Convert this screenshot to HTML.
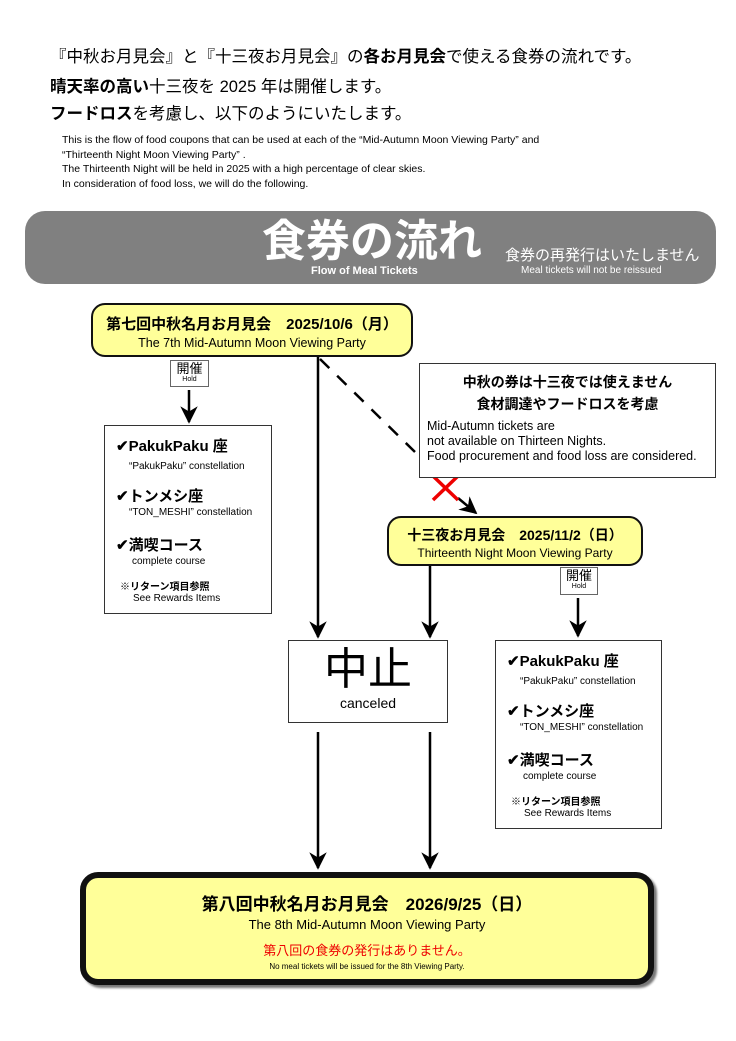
<!DOCTYPE html>
<html><head><meta charset="utf-8"><style>
*{margin:0;padding:0;box-sizing:border-box}
body{width:736px;height:1041px;background:#fff;position:relative;overflow:hidden;font-family:"Liberation Sans","Noto Sans CJK JP",sans-serif;color:#000}
.a{position:absolute;white-space:nowrap}
.box{position:absolute;border:1.5px solid #333;background:#fff}
.y{position:absolute;background:#ffff99;border:2px solid #111;border-radius:14px;text-align:center}
.hold{position:absolute;border:1px solid #666;background:#fff;text-align:center;font-size:13px;line-height:15px}
.hold small{display:block;font-size:7px;line-height:8px}
.li{font-weight:bold;font-size:15px}
.sm{font-size:10px}
</style></head><body>
<div class="a" style="left:50px;top:43px;font-size:16.5px">『中秋お月見会』と『十三夜お月見会』の<b>各お月見会</b>で使える食券の流れです。</div>
<div class="a" style="left:50px;top:73px;font-size:16.5px"><b>晴天率の高い</b>十三夜を 2025 年は開催します。</div>
<div class="a" style="left:50px;top:100px;font-size:16.5px"><b>フードロス</b>を考慮し、以下のようにいたします。</div>
<div class="a" style="left:62px;top:133px;font-size:10.5px;line-height:14.5px">This is the flow of food coupons that can be used at each of the “Mid-Autumn Moon Viewing Party” and<br>“Thirteenth Night Moon Viewing Party” .<br>The Thirteenth Night will be held in 2025 with a high percentage of clear skies.<br>In consideration of food loss, we will do the following.</div>

<div class="a" style="left:25px;top:211px;width:691px;height:73px;background:#808080;border-radius:20px"></div>
<div class="a" style="left:262px;top:216px;font-size:44px;font-weight:bold;color:#fff;line-height:52px">食券の流れ</div>
<div class="a" style="left:311px;top:265px;font-size:11px;font-weight:bold;color:#fff">Flow of Meal Tickets</div>
<div class="a" style="left:505px;top:244px;font-size:15px;color:#fff">食券の再発行はいたしません</div>
<div class="a" style="left:521px;top:265px;font-size:10px;color:#fff">Meal tickets will not be reissued</div>

<svg class="a" style="left:0;top:0" width="736" height="1041">
<defs><marker id="ar" viewBox="0 0 10 10" refX="9" refY="5" markerWidth="7.5" markerHeight="7" orient="auto" markerUnits="strokeWidth"><path d="M0 0L10 5L0 10L3 5z" fill="#000"/></marker></defs>
<g stroke="#000" stroke-width="2.5" fill="none" marker-end="url(#ar)">
<line x1="189" y1="390" x2="189" y2="422"/>
<line x1="318" y1="356" x2="318" y2="637"/>
<line x1="430" y1="565" x2="430" y2="637"/>
<line x1="578" y1="598" x2="578" y2="636"/>
<line x1="318" y1="732" x2="318" y2="868"/>
<line x1="430" y1="732" x2="430" y2="868"/>
<line x1="458" y1="498" x2="476" y2="513"/>
</g>
<line x1="320" y1="359" x2="415" y2="452" stroke="#000" stroke-width="2.5" stroke-dasharray="13,11"/>
<g stroke="#e00" stroke-width="3.5"><line x1="433" y1="476" x2="458" y2="500"/><line x1="458" y1="476" x2="433" y2="500"/></g>
</svg>

<div class="y" style="left:91px;top:303px;width:322px;height:54px"><div style="font-weight:bold;font-size:15px;margin-top:8px">第七回中秋名月お月見会　2025/10/6（月）</div><div style="font-size:12.5px;margin-top:2px">The 7th Mid-Autumn Moon Viewing Party</div></div>
<div class="hold" style="left:170px;top:360px;width:39px;height:27px">開催<small>Hold</small></div>

<div class="box" style="left:104px;top:425px;width:168px;height:189px"></div>
<div class="a" style="left:116px;top:440px;line-height:14px"><div class="li">✔PakukPaku 座</div><div class="sm" style="margin:6px 0 0 13px">“PakukPaku” constellation</div></div>
<div class="a" style="left:116px;top:485px"><div class="li">✔トンメシ座</div><div class="sm" style="margin:1px 0 0 13px">“TON_MESHI” constellation</div></div>
<div class="a" style="left:116px;top:534px"><div class="li">✔満喫コース</div><div class="sm" style="margin:1px 0 0 16px">complete course</div></div>
<div class="a" style="left:120px;top:578px"><div style="font-size:10px;font-weight:bold">※リターン項目参照</div><div class="sm" style="margin-left:13px">See Rewards Items</div></div>

<div class="box" style="left:419px;top:363px;width:297px;height:115px"></div>
<div class="a" style="left:419px;width:297px;top:371px;text-align:center;font-weight:bold;font-size:14px;line-height:22px">中秋の券は十三夜では使えません<br>食材調達やフードロスを考慮</div>
<div class="a" style="left:427px;top:419px;font-size:12.5px;line-height:15px">Mid-Autumn tickets are<br>not available on Thirteen Nights.<br>Food procurement and food loss are considered.</div>

<div class="y" style="left:387px;top:516px;width:256px;height:50px"><div style="font-weight:bold;font-size:14px;margin-top:7px">十三夜お月見会　2025/11/2（日）</div><div style="font-size:12px;margin-top:1px">Thirteenth Night Moon Viewing Party</div></div>
<div class="hold" style="left:560px;top:567px;width:38px;height:28px">開催<small>Hold</small></div>

<div class="box" style="left:288px;top:640px;width:160px;height:83px;text-align:center"><div style="font-size:44px;line-height:50px;margin-top:4px">中止</div><div style="font-size:14px;line-height:16px">canceled</div></div>

<div class="box" style="left:495px;top:640px;width:167px;height:189px"></div>
<div class="a" style="left:507px;top:655px;line-height:14px"><div class="li">✔PakukPaku 座</div><div class="sm" style="margin:6px 0 0 13px">“PakukPaku” constellation</div></div>
<div class="a" style="left:507px;top:700px"><div class="li">✔トンメシ座</div><div class="sm" style="margin:1px 0 0 13px">“TON_MESHI” constellation</div></div>
<div class="a" style="left:507px;top:749px"><div class="li">✔満喫コース</div><div class="sm" style="margin:1px 0 0 16px">complete course</div></div>
<div class="a" style="left:511px;top:793px"><div style="font-size:10px;font-weight:bold">※リターン項目参照</div><div class="sm" style="margin-left:13px">See Rewards Items</div></div>

<div class="a" style="left:80px;top:872px;width:574px;height:113px;background:#ffff99;border:6px solid #111;border-radius:18px;box-shadow:3px 3px 2px #777;text-align:center">
<div style="font-weight:bold;font-size:17px;margin-top:12px">第八回中秋名月お月見会　2026/9/25（日）</div>
<div style="font-size:13px;margin-top:2px">The 8th Mid-Autumn Moon Viewing Party</div>
<div style="font-size:13px;color:#e00;margin-top:8px">第八回の食券の発行はありません。</div>
<div style="font-size:8px;margin-top:3px">No meal tickets will be issued for the 8th Viewing Party.</div>
</div>
</body></html>
